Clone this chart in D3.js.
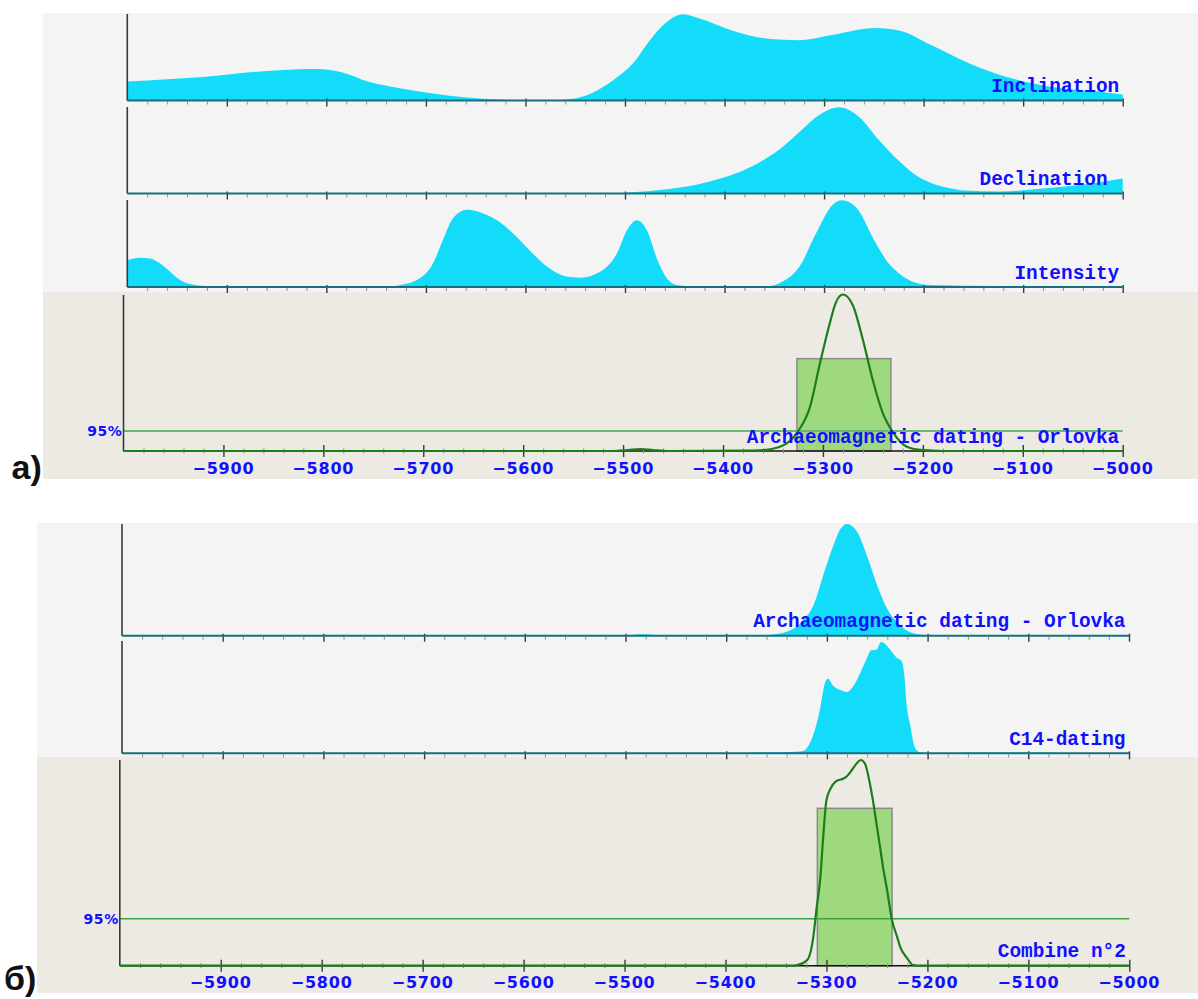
<!DOCTYPE html>
<html>
<head>
<meta charset="utf-8">
<script src="https://cdn.jsdelivr.net/npm/d3@7"></script>
<style>
  html, body { margin: 0; padding: 0; background: #ffffff; }
  svg { display: block; }
</style>
</head>
<body>
<svg id="chart" width="1198" height="999"></svg>
<script>
// ---- Time axis (years, BC as negative) ----
const yearDomain = [-6000, -5000];
const majorTicks = [-5900, -5800, -5700, -5600, -5500, -5400, -5300, -5200, -5100, -5000];
const tickLabels = ["\u22125900", "\u22125800", "\u22125700", "\u22125600", "\u22125500",
                    "\u22125400", "\u22125300", "\u22125200", "\u22125100", "\u22125000"];
const minorStep = 20;

// ---- Probability densities, [year, relative density 0..100] ----
const inclination = [
  [-6000, 21.9], [-5960, 24.6], [-5927, 27], [-5894, 30.8], [-5860, 34.3], [-5827, 36.3],
  [-5807, 36.6], [-5793, 34.7], [-5776, 29.7], [-5760, 22.7], [-5743, 18], [-5726, 14.2],
  [-5693, 8], [-5659, 3.5], [-5626, 1.2], [-5593, 0.3], [-5570, 0.5], [-5559, 1.2],
  [-5539, 5.8], [-5525, 13.6], [-5508, 27], [-5492, 43], [-5475, 70], [-5458, 91],
  [-5442, 100], [-5425, 95], [-5392, 81], [-5358, 72], [-5325, 70], [-5292, 76],
  [-5248, 84], [-5224, 81], [-5192, 64], [-5158, 45], [-5124, 30], [-5091, 20],
  [-5058, 13.6], [-5024, 10.5], [-5000, 7]
];

const declination = [
  [-6000, 0], [-5520, 0], [-5492, 1.5], [-5458, 5], [-5425, 11], [-5405, 17], [-5385, 25],
  [-5365, 36], [-5345, 51], [-5325, 71], [-5305, 91], [-5285, 100], [-5265, 89],
  [-5245, 62], [-5225, 38], [-5205, 19], [-5192, 12], [-5175, 6.5], [-5158, 3.5],
  [-5124, 2.3], [-5091, 4.6], [-5058, 8], [-5024, 12.8], [-5000, 17.4]
];

const intensity = [
  [-6000, 31], [-5987, 33.7], [-5977, 33], [-5967, 27], [-5957, 17.6], [-5947, 8],
  [-5937, 3.4], [-5920, 1], [-5900, 0.3], [-5740, 0.3], [-5726, 2.3], [-5709, 8],
  [-5693, 27], [-5683, 54], [-5673, 79], [-5659, 89], [-5643, 85], [-5626, 75],
  [-5609, 58], [-5593, 39], [-5576, 21.5], [-5559, 12], [-5545, 10.7], [-5525, 17.6],
  [-5508, 39], [-5498, 65.5], [-5488, 77], [-5478, 65.5], [-5468, 33], [-5458, 10],
  [-5448, 2.3], [-5425, 0.3], [-5358, 0.6], [-5342, 6], [-5325, 23], [-5308, 62],
  [-5292, 94], [-5282, 100], [-5268, 92], [-5248, 50.6], [-5235, 27], [-5225, 16],
  [-5208, 5], [-5192, 2.3], [-5124, 1.1], [-5024, 0.6], [-5000, 0]
];

// Combined archaeomagnetic date for Orlovka
const orlovka = [
  [-6000, 0], [-5510, 0], [-5495, 0.6], [-5483, 1.2], [-5470, 0.6], [-5455, 0],
  [-5380, 0.2], [-5360, 0.6], [-5340, 3.5], [-5325, 12.5], [-5313, 28], [-5303, 56],
  [-5293, 82], [-5287, 95], [-5280, 100], [-5270, 93], [-5260, 71], [-5250, 45],
  [-5240, 24], [-5230, 12], [-5216, 2.7], [-5200, 0.5], [-5180, 0], [-5000, 0]
];
const orlovkaInterval = [-5326, -5232];
const orlovkaLevel95 = 12.7;
const orlovkaBoxHeight = 59;

// Calibrated radiocarbon date
const c14 = [
  [-6000, 0], [-5400, 0], [-5370, 0.8], [-5330, 1.5], [-5323, 2.3], [-5317, 9],
  [-5312, 21], [-5307, 39], [-5302, 63], [-5299, 67], [-5294, 61], [-5287, 57],
  [-5280, 55], [-5274, 60], [-5267, 72], [-5260, 86], [-5256, 92.5], [-5251, 93],
  [-5246, 100], [-5237, 93], [-5231, 86], [-5226, 83], [-5223, 69], [-5221, 45],
  [-5217, 24], [-5214, 9], [-5211, 3], [-5206, 0.5], [-5195, 0], [-5175, 0],
  [-5165, 0.8], [-5075, 0.8], [-5065, 0], [-5000, 0]
];

// Combination of both dates
const combine = [
  [-6000, 0], [-5335, 0], [-5329, 0.3], [-5319, 2.8], [-5313, 14], [-5310, 27],
  [-5306, 43], [-5303, 64], [-5300, 80.5], [-5296, 86], [-5291, 89.5], [-5283, 91],
  [-5280, 92], [-5275, 95], [-5270, 98.4], [-5266, 100], [-5262, 98.4], [-5257, 88.6],
  [-5254, 80.5], [-5250, 67.6], [-5247, 58], [-5244, 48], [-5240, 37], [-5235, 22],
  [-5230, 14], [-5227, 9.2], [-5220, 3.6], [-5214, 0.3], [-5205, 0], [-5000, 0]
];
const combineInterval = [-5309, -5235];
const combineLevel95 = 22.8;
const combineBoxHeight = 76.5;

// ---- Styling ----
const COLORS = {
  plotBg: "#f4f4f4",
  resultBg: "#ede9e3",
  density: "#12dcfa",
  densityBase: "#16707e",
  axis: "#3a3a3a",
  minorTick: "#8e8e8e",
  text: "#1010ff",
  curve: "#1c7d1c",
  box: "#9fd97f",
  boxStroke: "#8a8a8a"
};
const LABEL_FONT = "'Liberation Mono', 'Courier New', monospace";
const TICK_FONT = "'DejaVu Sans', Verdana, sans-serif";

const svg = d3.select("#chart");
const minorTicks = d3.range(yearDomain[0] + minorStep, yearDomain[1], minorStep)
  .filter(v => v % 100 !== 0);

// Background blocks
const blocks = [
  { x: 43, y: 13, w: 1155, h: 279, fill: COLORS.plotBg },
  { x: 43, y: 292, w: 1155, h: 187, fill: COLORS.resultBg },
  { x: 37, y: 523, w: 1161, h: 234, fill: COLORS.plotBg },
  { x: 37, y: 757, w: 1161, h: 236, fill: COLORS.resultBg }
];
svg.selectAll("rect.block").data(blocks).join("rect")
  .attr("class", "block")
  .attr("x", d => d.x).attr("y", d => d.y)
  .attr("width", d => d.w).attr("height", d => d.h)
  .attr("fill", d => d.fill);

function drawTicks(g, x, base, major, minor) {
  // minor ticks
  const minorAxis = d3.axisBottom(x).tickValues(minorTicks)
    .tickSize(minor[1] - minor[0]).tickFormat("");
  g.append("g").attr("transform", `translate(0,${base + minor[0]})`)
    .call(minorAxis)
    .call(a => a.select(".domain").remove())
    .call(a => a.selectAll("line").attr("stroke", COLORS.minorTick).attr("stroke-width", 1));
  // major ticks
  const majorAxis = d3.axisBottom(x).tickValues(majorTicks)
    .tickSize(major[1] - major[0]).tickFormat("");
  g.append("g").attr("transform", `translate(0,${base + major[0]})`)
    .call(majorAxis)
    .call(a => a.select(".domain").remove())
    .call(a => a.selectAll("line").attr("stroke", COLORS.axis).attr("stroke-width", 1.4));
}

function densityPanel(p) {
  const g = svg.append("g");
  const x = d3.scaleLinear().domain(yearDomain).range([p.x0, p.x1]);
  const y = d3.scaleLinear().domain([0, 100]).range([p.base, p.top]);

  const area = d3.area()
    .x(d => x(d[0])).y0(p.base).y1(d => y(d[1]))
    .curve(d3.curveMonotoneX);
  g.append("path").datum(p.data).attr("d", area).attr("fill", COLORS.density);

  drawTicks(g, x, p.base, [-2, 6], [1, 4]);

  g.append("line")
    .attr("x1", p.x0).attr("x2", p.x1).attr("y1", p.base).attr("y2", p.base)
    .attr("stroke", COLORS.densityBase).attr("stroke-width", 2);
  g.append("line")
    .attr("x1", p.x0).attr("x2", p.x0).attr("y1", p.axisTop).attr("y2", p.base)
    .attr("stroke", COLORS.axis).attr("stroke-width", 1.6);

  g.append("text")
    .attr("x", p.x1 - 3.5 - (p.labelShift || 0)).attr("y", p.base - 8.5)
    .attr("text-anchor", "end")
    .attr("font-family", LABEL_FONT).attr("font-weight", "bold")
    .attr("font-size", "19.4px").attr("fill", COLORS.text)
    .text(p.label);
}

function resultPanel(p) {
  const g = svg.append("g");
  const x = d3.scaleLinear().domain(yearDomain).range([p.x0, p.x1]);
  const y = d3.scaleLinear().domain([0, 100]).range([p.base, p.top]);

  // 95% highest density interval box
  g.append("rect")
    .attr("x", x(p.interval[0])).attr("y", y(p.boxHeight))
    .attr("width", x(p.interval[1]) - x(p.interval[0]))
    .attr("height", p.base - y(p.boxHeight))
    .attr("fill", COLORS.box).attr("stroke", COLORS.boxStroke).attr("stroke-width", 1.5);

  // 95% level
  g.append("line")
    .attr("x1", p.x0).attr("x2", p.x1)
    .attr("y1", y(p.level)).attr("y2", y(p.level))
    .attr("stroke", p.levelColor).attr("stroke-width", p.levelWidth);

  g.append("text")
    .attr("x", p.x0 - 1).attr("y", y(p.level) + 5)
    .attr("text-anchor", "end")
    .attr("font-family", TICK_FONT).attr("font-weight", "bold")
    .attr("font-size", "14px").attr("letter-spacing", "0.6px")
    .attr("fill", COLORS.text)
    .text("95%");

  // axes
  g.append("line")
    .attr("x1", p.x0).attr("x2", p.x1).attr("y1", p.base).attr("y2", p.base)
    .attr("stroke", "#111").attr("stroke-width", 1.4);
  drawTicks(g, x, p.base, [-6, 6], [-2.5, 2.5]);
  g.append("line")
    .attr("x1", p.x0).attr("x2", p.x0).attr("y1", p.axisTop).attr("y2", p.base)
    .attr("stroke", COLORS.axis).attr("stroke-width", 1.6);

  // density curve
  const line = d3.line().x(d => x(d[0])).y(d => y(d[1])).curve(d3.curveMonotoneX);
  g.append("path").datum(p.data).attr("d", line)
    .attr("fill", "none").attr("stroke", COLORS.curve).attr("stroke-width", 2.2)
    .attr("stroke-linejoin", "round");

  // year labels
  g.selectAll("text.tick").data(majorTicks).join("text")
    .attr("class", "tick")
    .attr("x", d => x(d)).attr("y", p.base + 22.5)
    .attr("text-anchor", "middle")
    .attr("font-family", TICK_FONT).attr("font-weight", "bold")
    .attr("font-size", "16px").attr("letter-spacing", "0.8px")
    .attr("fill", COLORS.text)
    .text((d, i) => tickLabels[i]);

  g.append("text")
    .attr("x", p.x1 - 3.5).attr("y", p.base - 8.5)
    .attr("text-anchor", "end")
    .attr("font-family", LABEL_FONT).attr("font-weight", "bold")
    .attr("font-size", "19.4px").attr("fill", COLORS.text)
    .text(p.label);
}

// ---- a) archaeomagnetic dating ----
densityPanel({ x0: 127.3, x1: 1122.7, base: 100.5, top: 14.3, axisTop: 14, data: inclination, label: "Inclination" });
densityPanel({ x0: 127.3, x1: 1122.7, base: 193.5, top: 107.3, axisTop: 107, data: declination, label: "Declination", labelShift: 11.6 });
densityPanel({ x0: 127.3, x1: 1122.7, base: 287, top: 200.3, axisTop: 200, data: intensity, label: "Intensity" });
resultPanel({
  x0: 123.5, x1: 1122.7, base: 451, top: 294.5, axisTop: 295,
  data: orlovka, interval: orlovkaInterval, level: orlovkaLevel95, boxHeight: orlovkaBoxHeight,
  levelColor: "#6cb86c", levelWidth: 2,
  label: "Archaeomagnetic dating - Orlovka"
});

// ---- б) combination with radiocarbon ----
densityPanel({ x0: 122, x1: 1129, base: 635.7, top: 524, axisTop: 524, data: orlovka, label: "Archaeomagnetic dating - Orlovka" });
densityPanel({ x0: 122, x1: 1129, base: 753.3, top: 642, axisTop: 641, data: c14, label: "C14-dating" });
resultPanel({
  x0: 119.8, x1: 1129.3, base: 965.7, top: 760, axisTop: 760,
  data: combine, interval: combineInterval, level: combineLevel95, boxHeight: combineBoxHeight,
  levelColor: "#3ca43c", levelWidth: 1.5,
  label: "Combine n\u00b02"
});

// Figure part letters
svg.append("text").attr("x", 11.5).attr("y", 479)
  .attr("font-family", "'Liberation Sans', Arial, sans-serif").attr("font-weight", "bold")
  .attr("font-size", "34px").attr("fill", "#111").text("a)");
svg.append("text").attr("x", 4).attr("y", 990)
  .attr("font-family", "'Liberation Sans', Arial, sans-serif").attr("font-weight", "bold")
  .attr("font-size", "34px").attr("fill", "#111").text("б)");
</script>
</body>
</html>
